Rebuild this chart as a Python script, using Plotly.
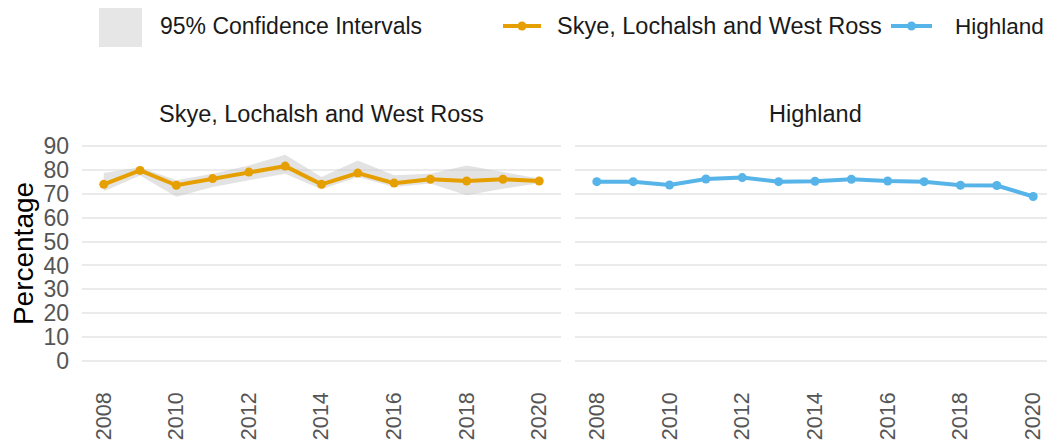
import plotly.graph_objects as go
from plotly.subplots import make_subplots

years = list(range(2008, 2021))

skye = [73.9, 79.7, 73.5, 76.3, 79.0, 81.5, 73.9, 78.6, 74.4, 76.0, 75.3, 76.0, 75.3]
skye_upper = [78.6, 81.0, 75.6, 78.3, 81.8, 86.3, 77.0, 83.8, 77.7, 78.3, 81.8, 79.0, 76.3]
skye_lower = [71.0, 77.6, 68.7, 72.8, 75.6, 78.3, 71.8, 77.0, 72.8, 74.2, 69.3, 72.0, 74.3]

highland = [75.0, 75.0, 73.6, 76.1, 76.7, 75.0, 75.2, 76.0, 75.3, 75.0, 73.5, 73.4, 68.8]

panel_titles = ["Skye, Lochalsh and West Ross", "Highland"]
y_ticks = [0, 10, 20, 30, 40, 50, 60, 70, 80, 90]
x_ticks = [2008, 2010, 2012, 2014, 2016, 2018, 2020]

colors = {
    'skye': '#E69F00',
    'highland': '#56B4E9',
    'ci': 'rgba(200,200,200,0.5)',
    'ci_legend': '#e6e6e6',
    'grid': '#ebebeb',
    'tick': '#555555'
}
font_family = "Liberation Sans, Arial, sans-serif"

# the page body has an 8px margin, so the figure is drawn 8px smaller and
# every position is given in window pixels minus that offset
OFF = 8
FIG_W, FIG_H = 1055 - OFF, 442 - OFF
L, R, T, B = 82 - OFF, 1055 - OFF, 135 - OFF, 372 - OFF
W, H = R - L, B - T


def px_x(x):
    return (x - OFF - L) / W


def px_y(y):
    return (B - (y - OFF)) / H


fig = make_subplots(rows=1, cols=2, shared_yaxes=True)

# confidence band (left panel only)
fig.add_trace(go.Scatter(x=years, y=skye_upper, mode='lines',
                         line=dict(width=0), showlegend=False,
                         hoverinfo='skip'), row=1, col=1)
fig.add_trace(go.Scatter(x=years, y=skye_lower, mode='lines',
                         line=dict(width=0), fill='tonexty',
                         fillcolor=colors['ci'], showlegend=False,
                         hoverinfo='skip'), row=1, col=1)

fig.add_trace(go.Scatter(x=years, y=skye, mode='lines+markers',
                         name=panel_titles[0],
                         line=dict(color=colors['skye'], width=4),
                         marker=dict(size=9, color=colors['skye']),
                         showlegend=False), row=1, col=1)
fig.add_trace(go.Scatter(x=years, y=highland, mode='lines+markers',
                         name=panel_titles[1],
                         line=dict(color=colors['highland'], width=4),
                         marker=dict(size=9, color=colors['highland']),
                         showlegend=False), row=1, col=2)

axis_common = dict(showline=False, zeroline=False, ticks='', automargin=False)
fig.update_xaxes(range=[2007.4, 2020.6], tickvals=x_ticks, tickangle=-90,
                 showgrid=False,
                 tickfont=dict(size=21.5, color=colors['tick']),
                 ticklabelstandoff=15, **axis_common)
fig.update_yaxes(range=[-4.5, 94.5], tickvals=y_ticks, showgrid=True,
                 gridcolor=colors['grid'], gridwidth=2,
                 tickfont=dict(size=23, color=colors['tick']),
                 **axis_common)
fig.update_layout(
    xaxis=dict(domain=[0, px_x(561)]),
    xaxis2=dict(domain=[px_x(575), 1]),
)
fig.update_yaxes(title=dict(text="Percentage", font=dict(size=28, color='black'),
                            standoff=4),
                 ticklabelstandoff=12, row=1, col=1)

# panel titles
centers = [(82 + 561) / 2, (575 + 1055) / 2]
for t, cx in zip(panel_titles, centers):
    fig.add_annotation(text=t, x=px_x(cx), y=1, xref='paper', yref='paper',
                       xanchor='center', yanchor='bottom', yshift=6, showarrow=False,
                       font=dict(size=23.5, color='#1a1a1a'))

# hand-made legend
fig.add_shape(type='rect', xref='paper', yref='paper',
              x0=px_x(99), x1=px_x(142), y0=px_y(47), y1=px_y(3),
              fillcolor=colors['ci_legend'], line=dict(width=0))
fig.add_annotation(text="95% Confidence Intervals", xref='paper', yref='paper',
                   x=px_x(158), y=px_y(26), xanchor='left',
                   yanchor='middle', showarrow=False,
                   font=dict(size=23, color='#1a1a1a'))
legend_items = [(panel_titles[0], colors['skye'], 503, 541, 555, 23.5),
                (panel_titles[1], colors['highland'], 891, 932, 953, 22.5)]
for name, c, x0, x1, xt, fs in legend_items:
    fig.add_shape(type='line', xref='paper', yref='paper',
                  x0=px_x(x0), x1=px_x(x1), y0=px_y(26), y1=px_y(26),
                  line=dict(color=c, width=4))
    cx = (x0 + x1) / 2
    fig.add_shape(type='circle', xref='paper', yref='paper',
                  x0=px_x(cx - 4.5), x1=px_x(cx + 4.5),
                  y0=px_y(26 + 4.5), y1=px_y(26 - 4.5),
                  fillcolor=c, line=dict(width=0))
    fig.add_annotation(text=name, xref='paper', yref='paper',
                       x=px_x(xt), y=px_y(26), xanchor='left',
                       yanchor='middle', showarrow=False,
                       font=dict(size=fs, color='#1a1a1a'))

fig.update_layout(
    width=FIG_W, height=FIG_H,
    margin=dict(l=L, r=FIG_W - R, t=T, b=FIG_H - B, autoexpand=False),
    paper_bgcolor='white', plot_bgcolor='white',
    font=dict(family=font_family),
    showlegend=False
)

fig.write_html("out.html")
